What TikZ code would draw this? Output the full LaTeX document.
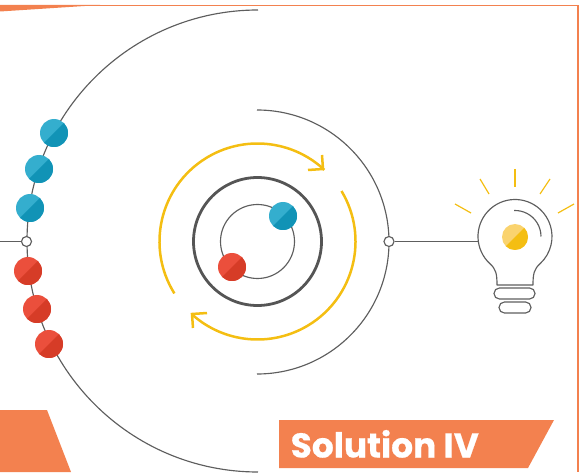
\documentclass[tikz,border=0pt]{standalone}
\usepackage{fontspec}
\setsansfont{Poppins}[BoldFeatures={FakeBold=0.5}]
\usetikzlibrary{calc}
\definecolor{orng}{HTML}{F3814F}
\definecolor{blueL}{HTML}{34AECE}
\definecolor{blueD}{HTML}{1193B6}
\definecolor{redL}{HTML}{EB4F3C}
\definecolor{redD}{HTML}{D63C27}
\definecolor{yelL}{HTML}{FAD36E}
\definecolor{yelD}{HTML}{F4BE12}
\definecolor{gry}{HTML}{5E5E5E}
\tikzset{
  x=1pt,y=1pt,
  wire/.style={draw=gry,line width=1.15pt},
  pill/.style={draw=gry,line width=1.15pt,rounded corners=5.4pt},
  junction/.style={circle,draw=gry,line width=1.15pt,fill=white,minimum size=10pt,inner sep=0pt},
  yarc/.style={draw=yelD,line width=2.5pt},
  ray/.style={draw=yelD,line width=1.2pt},
  ball/.style 2 args={circle,minimum size=28pt,inner sep=0pt,fill=#1,
    path picture={\fill[#2] (path picture bounding box.north east) -- (path picture bounding box.south west) -- (path picture bounding box.south east) -- cycle;}},
  bluedot/.style={ball={blueL}{blueD}},
  reddot/.style={ball={redL}{redD}},
  yeldot/.style={ball={yelL}{yelD},minimum size=26pt},
}
\begin{document}
\begin{tikzpicture}
\useasboundingbox (0,0) rectangle (579,472);
% frame
\fill[orng] (0,465.6) rectangle (578.6,467.2);
\fill[orng] (577,0) rectangle (578.6,467.2);
\fill[orng] (0,467) -- (100,467) -- (0,460.5) -- cycle;
% orange shapes
\fill[orng] (0,62) -- (47,62) -- (71,0) -- (0,0) -- cycle;
\fill[orng] (279,52) -- (554,52) -- (528,4) -- (279,4) -- cycle;
\node[anchor=base west,inner sep=0pt,text=white] (title) at (290.5,14.5) {\sffamily\bfseries\fontsize{34.4}{35}\selectfont Solution IV};
% centres
\coordinate (cbig) at (258,231);
\coordinate (cmid) at (257,230);
\coordinate (c) at (257.5,230.5);
% outer arcs
\draw[wire] ([shift={(90:231pt)}]cbig) arc[start angle=90,end angle=270,radius=231pt];
\draw[wire] ([shift={(90:132pt)}]cmid) arc[start angle=90,end angle=-90,radius=132pt];
% rings
\node[circle,draw=gry!90!black,line width=2.8pt,minimum size=128pt,inner sep=0pt] (ringM) at (c) {};
\node[circle,draw=gry,line width=1.15pt,minimum size=74pt,inner sep=0pt] (ringI) at (c) {};
% yellow arcs
\draw[yarc] ([shift={(212:98pt)}]c) arc[start angle=212,end angle=47,radius=98pt];
\draw[yarc] ([shift={(31:98pt)}]c) arc[start angle=31,end angle=-132,radius=98pt];
\draw[yarc] (322,317) -- (323,303) -- (308,302);
\draw[yarc] (207,159) -- (192,158) -- (193,144);
% balls
\node[bluedot] (b1) at (54,339) {};
\node[bluedot] (b2) at (39,303) {};
\node[bluedot] (b3) at (30,264) {};
\node[reddot] (r1) at (28,201) {};
\node[reddot] (r2) at (37,163) {};
\node[reddot] (r3) at (49,128) {};
\node[bluedot] (b4) at (283,256) {};
\node[reddot] (r4) at (232,205) {};
% junctions
\node[junction] (jl) at (26.5,230.5) {};
\node[junction] (jr) at (389,230.5) {};
\coordinate (lend) at (0,230.5);
\coordinate (bulbL) at (478,230.5);
\draw[wire] (lend) -- (jl);
\draw[wire] (jr) -- (bulbL);
% bulb
\coordinate (bc) at (515,235.5);
\coordinate (nl) at (497,187);
\coordinate (nr) at (533,187);
\draw[wire,line join=round] (nl) .. controls (497,198) and (496,203) .. ([shift={(227:37pt)}]bc)
  arc[start angle=227,end angle=-47,radius=37pt] .. controls (534,203) and (533,198) .. (nr) -- cycle;
\draw[wire] ([shift={(92:26pt)}]bc) arc[start angle=92,end angle=0,radius=26pt];
\node[yeldot] (glow) at (515,235) {};
\node[pill,minimum width=41pt,minimum height=11pt,inner sep=0pt] (p1) at (514.5,178.5) {};
\node[pill,minimum width=32pt,minimum height=11pt,inner sep=0pt] (p2) at (515,164.5) {};
% rays
\draw[ray] (515,303) -- (515,285);
\draw[ray] (480,293) -- (489,278);
\draw[ray] (550,293) -- (540,278);
\draw[ray] (455,268) -- (471,259);
\draw[ray] (574,268) -- (558,259);
\end{tikzpicture}
\end{document}
